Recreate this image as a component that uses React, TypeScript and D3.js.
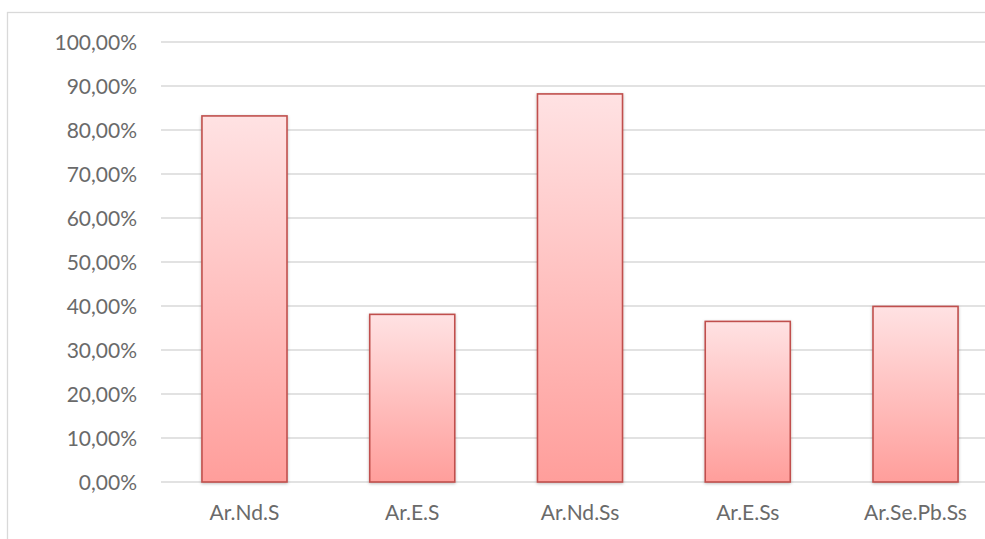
import React from "react";
import * as d3 from "d3";

const categories = ["Ar.Nd.S", "Ar.E.S", "Ar.Nd.Ss", "Ar.E.Ss", "Ar.Se.Pb.Ss"];
const values = [0.832, 0.381, 0.882, 0.365, 0.399];
const yTicks = [0, 0.1, 0.2, 0.3, 0.4, 0.5, 0.6, 0.7, 0.8, 0.9, 1.0];

const W = 985;
const H = 539;

export default function App() {
  const x = d3.scaleBand<string>().domain(categories).range([160.6, 999.4]).paddingInner(0.493).paddingOuter(0.2465);
  const y = d3.scaleLinear().domain([0, 1]).range([482, 42]);
  const fmt = (v: number) => (v * 100).toFixed(2).replace(".", ",") + "%";
  const font = "Lato, 'Open Sans', sans-serif";
  return (
    <svg width={W} height={H} style={{ position: "fixed", left: 0, top: 0, background: "#fff" }}>
      <defs>
        <linearGradient id="barGrad" x1="0" y1="0" x2="0" y2="1">
          <stop offset="0" stopColor="#ffe2e3" />
          <stop offset="1" stopColor="#ff9e9b" />
        </linearGradient>
        <filter id="shadow" x="-20%" y="-20%" width="140%" height="140%">
          <feDropShadow dx="0" dy="1" stdDeviation="1.5" floodColor="#000" floodOpacity="0.25" />
        </filter>
      </defs>
      <rect x={7.5} y={12.5} width={1000} height={600} fill="#fff" stroke="#d9d9d9" strokeWidth={1.3} />
      {yTicks.map((t) => (
        <g key={t}>
          <line x1={161} x2={W} y1={y(t)} y2={y(t)} stroke="#d9d9d9" strokeWidth={1.3} />
          <text x={137} y={y(t)} dy="0.36em" textAnchor="end" fontFamily={font} fontSize={21} fill="#6a6a6a">
            {fmt(t)}
          </text>
        </g>
      ))}
      {categories.map((c, i) => (
        <g key={c}>
          <rect
            x={x(c)}
            y={y(values[i])}
            width={x.bandwidth()}
            height={y(0) - y(values[i])}
            fill="url(#barGrad)"
            stroke="#c0504d"
            strokeWidth={1.6}
            filter="url(#shadow)"
          />
          <text x={(x(c) as number) + x.bandwidth() / 2} y={520} textAnchor="middle" fontFamily={font} fontSize={21} fill="#6a6a6a">
            {c}
          </text>
        </g>
      ))}
    </svg>
  );
}
